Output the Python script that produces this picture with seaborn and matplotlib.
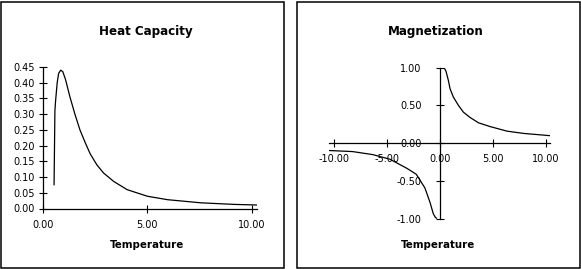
import matplotlib
matplotlib.use("Agg")
import matplotlib.pyplot as plt
import seaborn as sns
from matplotlib.patches import Rectangle
from matplotlib.ticker import FormatStrFormatter

# values
heat_temp = [0.53, 0.55, 0.57, 0.60, 0.68, 0.75, 0.85, 0.95, 1.08, 1.29, 1.53, 1.77,
             2.02, 2.26, 2.58, 2.90, 3.39, 4.03, 5.00, 5.97, 7.58, 9.19, 10.30]
heat_cap = [0.075, 0.19, 0.31, 0.34, 0.40, 0.43, 0.44, 0.435, 0.41, 0.355, 0.30, 0.25,
            0.21, 0.174, 0.139, 0.113, 0.086, 0.060, 0.039, 0.028, 0.018, 0.013, 0.011]

mag_temp_pos = [0.28, 0.45, 0.60, 0.82, 0.98, 1.29, 1.77, 2.24, 2.87, 3.66, 4.76, 6.34, 7.90, 10.40]
mag_pos = [1.00, 0.99, 0.95, 0.83, 0.72, 0.61, 0.50, 0.41, 0.34, 0.27, 0.22, 0.16, 0.13, 0.10]
mag_temp_neg = [-10.40, -8.20, -6.30, -4.70, -3.10, -2.20, -1.39, -0.91, -0.60, -0.40, -0.28]
mag_neg = [-0.096, -0.11, -0.15, -0.21, -0.33, -0.41, -0.59, -0.78, -0.93, -0.98, -0.99]

heat_xticks = [0, 5, 10]
heat_yticks = [0, 0.05, 0.10, 0.15, 0.20, 0.25, 0.30, 0.35, 0.40, 0.45]
mag_xticks = [-10, -5, 0, 5, 10]
mag_yticks = [-1, -0.5, 0, 0.5, 1]

sns.set_style("white")
plt.rcParams['font.family'] = ['DejaVu Sans']
plt.rcParams.update({'text.color': 'black', 'xtick.color': 'black', 'ytick.color': 'black',
                     'axes.labelcolor': 'black', 'xtick.bottom': True, 'ytick.left': True})

W, H = 581, 269
fig = plt.figure(figsize=(W / 100, H / 100), dpi=100)

# panel frames
for x0 in (1, 297):
    fig.patches.append(Rectangle((x0 / W, 1.5 / H), 282.5 / W, 266 / H, transform=fig.transFigure,
                                 fill=False, edgecolor='black', linewidth=1.1))

# Heat capacity panel
ax1 = fig.add_axes([43 / W, (H - 208.5) / H, 214.3 / W, 141.5 / H])
sns.lineplot(x=heat_temp, y=heat_cap, ax=ax1, color='black', linewidth=0.9, sort=False)
ax1.set_xlim(0, 10.27)
ax1.set_ylim(0, 0.45)
ax1.set_xticks(heat_xticks)
ax1.set_yticks(heat_yticks)
ax1.xaxis.set_major_formatter(FormatStrFormatter('%.2f'))
ax1.yaxis.set_major_formatter(FormatStrFormatter('%.2f'))
for s in ['top', 'right']:
    ax1.spines[s].set_visible(False)
ax1.tick_params(axis='x', bottom=True, direction='inout', length=6, width=0.8, pad=5, labelsize=7)
ax1.tick_params(axis='y', left=True, direction='inout', length=6, width=0.8, pad=3, labelsize=7)

# Magnetization panel
ax2 = fig.add_axes([329.3 / W, (H - 219) / H, 220.7 / W, 151.5 / H])
sns.lineplot(x=mag_temp_neg, y=mag_neg, ax=ax2, color='black', linewidth=0.9, sort=False)
sns.lineplot(x=mag_temp_pos, y=mag_pos, ax=ax2, color='black', linewidth=0.9, sort=False)
ax2.set_xlim(-10.4, 10.4)
ax2.set_ylim(-1, 1)
ax2.set_xticks(mag_xticks)
ax2.set_yticks(mag_yticks)
ax2.xaxis.set_major_formatter(FormatStrFormatter('%.2f'))
ax2.yaxis.set_major_formatter(FormatStrFormatter('%.2f'))
ax2.spines['left'].set_position('zero')
ax2.spines['bottom'].set_position('zero')
for s in ['top', 'right']:
    ax2.spines[s].set_visible(False)
ax2.tick_params(axis='x', bottom=True, direction='inout', length=6, width=0.8, pad=5, labelsize=7)
ax2.tick_params(axis='y', left=True, direction='inout', length=6, width=0.8, pad=10, labelsize=7)

for ax in (ax1, ax2):
    for sp in ax.spines.values():
        sp.set_linewidth(0.9)
        sp.set_color('black')
    ax.set_xlabel('')
    ax.set_ylabel('')

fig.text(146 / W, 1 - 32 / H, 'Heat Capacity', ha='center', va='center', fontsize=8.6, fontweight='bold')
fig.text(436 / W, 1 - 32 / H, 'Magnetization', ha='center', va='center', fontsize=8.6, fontweight='bold')
fig.text(147 / W, 1 - 245 / H, 'Temperature', ha='center', va='center', fontsize=7.4, fontweight='bold')
fig.text(438 / W, 1 - 245 / H, 'Temperature', ha='center', va='center', fontsize=7.4, fontweight='bold')

fig.savefig('out.png', dpi=100)
